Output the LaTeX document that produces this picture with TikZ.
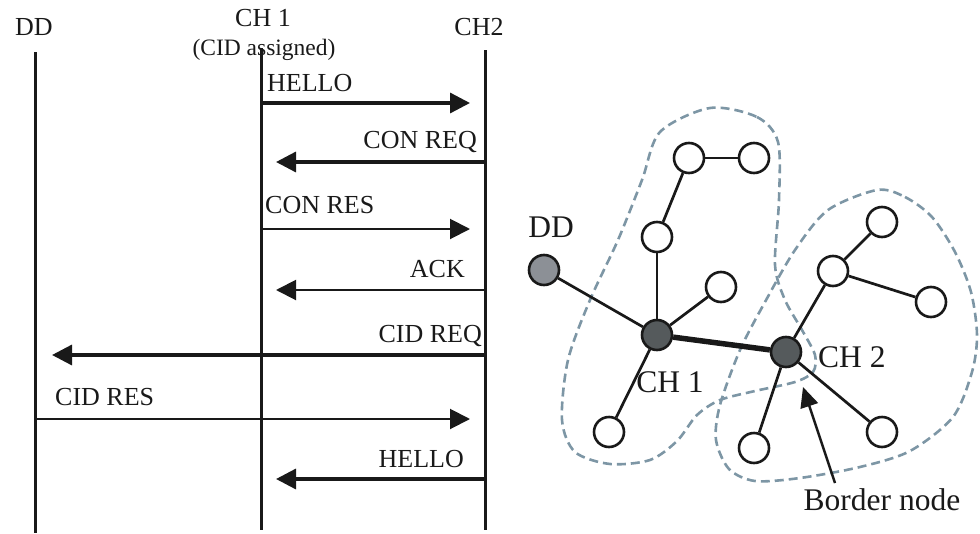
\documentclass[tikz,border=0pt]{standalone}
\usepackage{fontspec}
\setmainfont{Liberation Serif}
\usetikzlibrary{arrows.meta}
\definecolor{ink}{RGB}{25,25,25}
\definecolor{blobc}{RGB}{125,150,165}
\definecolor{ddfill}{RGB}{140,144,150}
\definecolor{chfill}{RGB}{85,90,92}
\begin{document}
\begin{tikzpicture}[x=1pt,y=-1pt,
  life/.style={draw=ink,line width=3pt},
  msgthick/.style={draw=ink,line width=3.3pt,-{Triangle[length=20pt,width=20pt]}},
  msgthin/.style={draw=ink,line width=2pt,-{Triangle[length=20pt,width=20pt]}},
  lbl/.style={inner sep=0pt,text=ink,font=\fontsize{26}{30}\selectfont},
  sublbl/.style={inner sep=0pt,text=ink,font=\fontsize{23.5}{28}\selectfont},
  rlbl/.style={inner sep=0pt,text=ink,font=\fontsize{31.5}{36}\selectfont},
  circ/.style={circle,draw=ink,line width=2.6pt,minimum size=30pt,inner sep=0pt,fill=white},
  edge/.style={draw=ink,line width=2.7pt},
  blob/.style={draw=blobc,line width=2.6pt,dash pattern=on 9pt off 5pt}
]
\useasboundingbox (0,0) rectangle (980,533);

% ---------- sequence diagram ----------
\node[lbl,anchor=base] (tdd) at (34,35) {DD};
\node[lbl,anchor=base] (tch1) at (263,26) {CH 1};
\node[sublbl,anchor=base] (tcid) at (264,55) {(CID assigned)};
\node[lbl,anchor=base] (tch2) at (479,35) {CH2};

\coordinate (dd0) at (35,52);   \coordinate (dd1) at (35,533);
\coordinate (c10) at (261,48);  \coordinate (c11) at (261,530);
\coordinate (c20) at (485,50);  \coordinate (c21) at (485,530);
\draw[life] (dd0) -- (dd1);
\draw[life] (c10) -- (c11);
\draw[life] (c20) -- (c21);

% message endpoints
\coordinate (m1a) at (261,103); \coordinate (m1b) at (470,103);
\coordinate (m2a) at (485,162); \coordinate (m2b) at (276,162);
\coordinate (m3a) at (261,229); \coordinate (m3b) at (470,229);
\coordinate (m4a) at (485,290); \coordinate (m4b) at (276,290);
\coordinate (m5a) at (485,355); \coordinate (m5b) at (52,355);
\coordinate (m6a) at (35,419);  \coordinate (m6b) at (470,419);
\coordinate (m7a) at (485,479); \coordinate (m7b) at (276,479);

\draw[msgthick] (m1a) -- (m1b);
\draw[msgthick] (m2a) -- (m2b);
\draw[msgthin]  (m3a) -- (m3b);
\draw[msgthin]  (m4a) -- (m4b);
\draw[msgthick] (m5a) -- (m5b);
\draw[msgthin]  (m6a) -- (m6b);
\draw[msgthick] (m7a) -- (m7b);

\node[lbl,anchor=base west] (l1) at (267,91) {HELLO};
\node[lbl,anchor=base east] (l2) at (477,148) {CON REQ};
\node[lbl,anchor=base west] (l3) at (265,213) {CON RES};
\node[lbl,anchor=base east] (l4) at (465,277) {ACK};
\node[lbl,anchor=base east] (l5) at (482,342) {CID REQ};
\node[lbl,anchor=base west] (l6) at (55,405) {CID RES};
\node[lbl,anchor=base east] (l7) at (464,467) {HELLO};

% ---------- cluster graph ----------
\draw[blob] plot[smooth cycle] coordinates {
 (710,108) (757,117) (778,142) (779,200) (775,265) (785,300) (802,330)
 (815,355) (813,372) (795,382) (755,391) (720,400) (697,415) (677,441)
 (650,460) (610,464) (575,452) (562,420) (568,360) (590,300) (618,240)
 (642,180) (660,132)};
\draw[blob] plot[smooth cycle] coordinates {
 (877,190) (905,197) (932,217) (955,252) (971,292) (977,335) (972,372)
 (953,417) (910,451) (860,467) (800,478) (755,481) (729,469) (716,440)
 (720,405) (740,350) (765,302) (795,250) (828,210)};

\node[circ] (a1) at (689,158) {};
\node[circ] (a2) at (754,158) {};
\node[circ] (a3) at (657,237) {};
\node[circ,fill=ddfill] (dd) at (544,270) {};
\node[circ] (a4) at (721,287) {};
\node[circ,fill=chfill] (ch1) at (657,335) {};
\node[circ] (a5) at (609,432) {};
\node[circ,fill=chfill] (ch2) at (786,352) {};
\node[circ] (b1) at (833,271) {};
\node[circ] (b2) at (882,222) {};
\node[circ] (b3) at (931,302) {};
\node[circ] (b4) at (754,448) {};
\node[circ] (b5) at (882,432) {};

\draw[edge] (a1) -- (a2);
\draw[edge] (a1) -- (a3);
\draw[edge] (a3) -- (ch1);
\draw[edge] (dd) -- (ch1);
\draw[edge] (ch1) -- (a4);
\draw[edge] (ch1) -- (a5);
\draw[draw=ink,line width=5.5pt] (ch1) -- (ch2);
\draw[edge] (ch2) -- (b1);
\draw[edge] (b1) -- (b2);
\draw[edge] (b1) -- (b3);
\draw[edge] (ch2) -- (b4);
\draw[edge] (ch2) -- (b5);

\node[rlbl,anchor=base] (tdd2) at (551,237) {DD};
\node[rlbl,anchor=base] (tch12) at (670,392) {CH 1};
\node[rlbl,anchor=base west] (tch22) at (818,367) {CH 2};
\node[rlbl,anchor=base] (bn) at (882,510) {Border node};

\coordinate (bntail) at (835,483);
\coordinate (bntip) at (803,387);
\draw[draw=ink,line width=2.5pt,-{Triangle[length=20pt,width=18pt]}] (bntail) -- (bntip);
\end{tikzpicture}
\end{document}
